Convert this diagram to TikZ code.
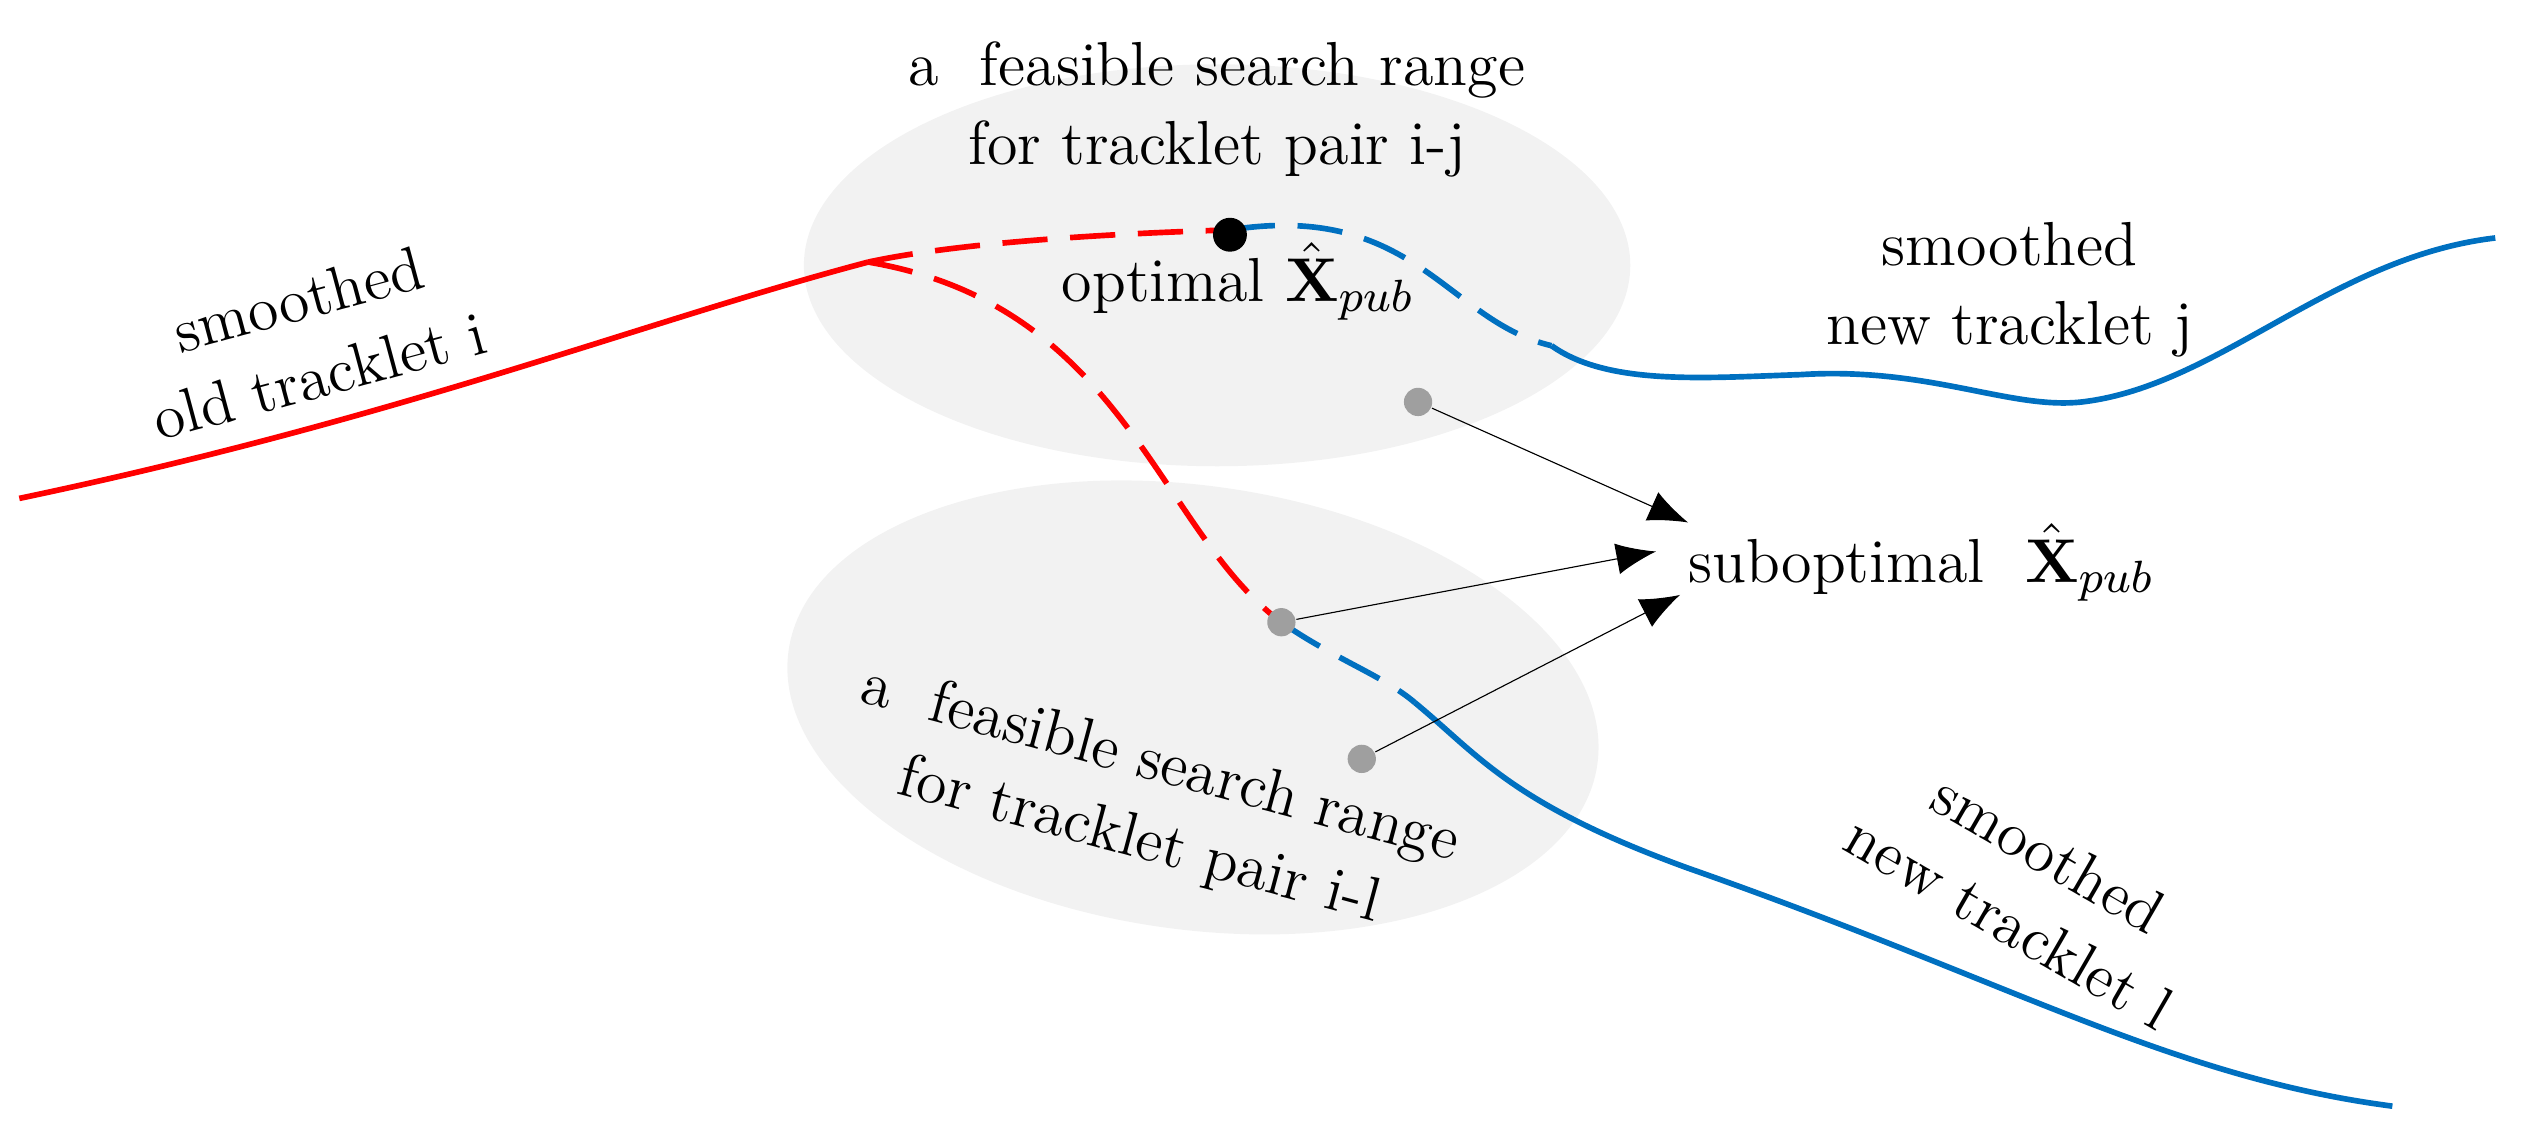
\documentclass[tikz,border=0pt]{standalone}
\usepackage{amsmath}
\usetikzlibrary{arrows.meta}
\begin{document}
\begin{tikzpicture}[x=0.01cm,y=-0.01cm,
  lbl/.style={font=\fontsize{11}{14}\selectfont,align=center},
  dot/.style={circle,fill=gray!75,inner sep=0pt,minimum size=5pt},
  arr/.style={-{Latex[length=7pt,width=5.5pt]},very thin},
  red1/.style={red,line width=1pt},
  blue1/.style={color={rgb,255:red,0;green,112;blue,192},line width=1pt}]
\useasboundingbox (0,0) rectangle (1568,706);
\fill[gray!10] (757,165) ellipse [x radius=257,y radius=125];
\fill[gray!10,rotate around={-8:(742,440)}] (742,440) ellipse [x radius=254,y radius=138];
% red
\draw[red1] (12,310) .. controls (250,260) and (400,200) .. (540,163);
\draw[red1,dash pattern=on 8pt off 4pt] (540,163) .. controls (600,150) and (700,145) .. (765,143);
\draw[red1,dash pattern=on 8pt off 4pt] (540,163) .. controls (700,190) and (720,330) .. (797,387);
% blue
\draw[blue1,dash pattern=on 8pt off 4pt] (765,143) .. controls (880,125) and (900,200) .. (965,215);
\draw[blue1] (965,215) .. controls (1000,240) and (1060,235) .. (1120,233) .. controls (1200,228) and (1250,255) .. (1295,250) .. controls (1380,240) and (1450,160) .. (1552,148);
\draw[blue1,dash pattern=on 8pt off 4pt] (797,387) .. controls (830,410) and (860,420) .. (880,437);
\draw[blue1] (880,437) .. controls (920,470) and (940,500) .. (1050,540) .. controls (1250,610) and (1350,670) .. (1488,688);
% dots
\node[circle,fill=black,inner sep=0pt,minimum size=6pt] (opt) at (765,146) {};
\node[dot] (d1) at (882,250) {};
\node[dot] (d2) at (797,387) {};
\node[dot] (d3) at (847,472) {};
\coordinate (a1) at (1050,325);
\coordinate (a2) at (1030,343);
\coordinate (a3) at (1045,370);
\draw[arr] (d1) -- (a1);
\draw[arr] (d2) -- (a2);
\draw[arr] (d3) -- (a3);
% labels
\node[lbl] (t1) at (757,68) {a\ \ feasible search range\\for tracklet pair i-j};
\node[lbl] (t2) at (770,175) {optimal $\hat{\mathbf{X}}_{pub}$};
\node[lbl] (t3) at (1250,180) {smoothed\\new tracklet j};
\node[lbl,rotate=15] (t4) at (192,210) {smoothed\\old tracklet i};
\node[lbl] (t5) at (1195,350) {suboptimal\ \ $\hat{\mathbf{X}}_{pub}$};
\node[lbl,rotate=-15] (t6) at (715,500) {a\ \ feasible search range\\for tracklet pair i-l};
\node[lbl,rotate=-30] (t7) at (1262,552) {smoothed\\new tracklet l};
\end{tikzpicture}
\end{document}
